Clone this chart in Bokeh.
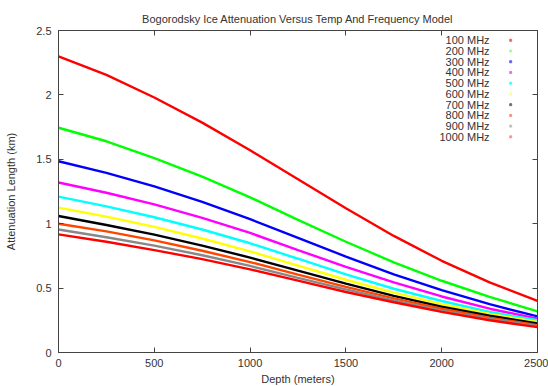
from bokeh.plotting import figure
from bokeh.models import Range1d, LinearAxis, FixedTicker, Label, Title
from bokeh.embed import file_html
from bokeh.resources import INLINE

# Depth samples (meters)
depth = [0, 250, 500, 750, 1000, 1250, 1500, 1750, 2000, 2250, 2500]

# Attenuation length (km) per frequency
att_100 = [2.30, 2.155, 1.98, 1.785, 1.57, 1.345, 1.12, 0.905, 0.712, 0.545, 0.40]
att_200 = [1.745, 1.64, 1.51, 1.365, 1.205, 1.03, 0.86, 0.70, 0.557, 0.432, 0.32]
att_300 = [1.485, 1.395, 1.29, 1.17, 1.035, 0.89, 0.745, 0.607, 0.485, 0.375, 0.28]
att_400 = [1.32, 1.24, 1.15, 1.045, 0.928, 0.795, 0.665, 0.545, 0.435, 0.34, 0.263]
att_500 = [1.21, 1.135, 1.05, 0.955, 0.848, 0.728, 0.607, 0.495, 0.40, 0.315, 0.25]
att_600 = [1.125, 1.055, 0.975, 0.885, 0.785, 0.675, 0.565, 0.465, 0.375, 0.30, 0.238]
att_700 = [1.06, 0.99, 0.915, 0.83, 0.737, 0.635, 0.535, 0.44, 0.355, 0.285, 0.225]
att_800 = [1.0, 0.94, 0.87, 0.79, 0.702, 0.605, 0.51, 0.42, 0.34, 0.27, 0.213]
att_900 = [0.955, 0.895, 0.83, 0.755, 0.672, 0.58, 0.49, 0.405, 0.325, 0.26, 0.205]
att_1000 = [0.917, 0.86, 0.795, 0.725, 0.645, 0.558, 0.47, 0.39, 0.315, 0.25, 0.197]

labels = ["100 MHz", "200 MHz", "300 MHz", "400 MHz", "500 MHz",
          "600 MHz", "700 MHz", "800 MHz", "900 MHz", "1000 MHz"]
series = [att_100, att_200, att_300, att_400, att_500,
          att_600, att_700, att_800, att_900, att_1000]
colors = ["#ff0000", "#00ff00", "#0000ff", "#ff00ff", "#00ffff",
          "#ffff00", "#000000", "#ff4500", "#888888", "#ff0000"]
key_colors = ["#ff6060", "#a0ffa0", "#6060ff", "#ff60ff", "#40ffff",
              "#ffff90", "#707070", "#ff9070", "#c0c0c0", "#ff9090"]

FONT = "Liberation Sans"
TXT = "#333333"
AXC = "#444444"

p = figure(frame_width=479, frame_height=322, output_backend="svg",
           toolbar_location=None,
           x_range=Range1d(0, 2500), y_range=Range1d(0, 2.5),
           min_border_left=58, min_border_right=11, min_border_top=30,
           min_border_bottom=34)
p.title = Title(text="Bogorodsky Ice Attenuation Versus Temp And Frequency Model",
                align="center", text_font=FONT, text_font_size="11px",
                text_font_style="normal", text_color=TXT, offset=0, standoff=12)

p.background_fill_color = "white"
p.border_fill_color = "white"
p.outline_line_color = AXC
p.outline_line_width = 1
p.grid.visible = False

for ys, c in zip(series, colors):
    p.line(depth, ys, line_color=c, line_width=2.4)

xt = FixedTicker(ticks=[0, 500, 1000, 1500, 2000, 2500])
yt = FixedTicker(ticks=[0, 0.5, 1, 1.5, 2, 2.5])

xax = p.xaxis[0]
yax = p.yaxis[0]
xax.ticker = xt
yax.ticker = yt
xax.axis_label = "Depth (meters)"
yax.axis_label = "Attenuation Length (km)"

for ax in [xax, yax]:
    ax.axis_line_color = AXC
    ax.major_tick_line_color = AXC
    ax.major_tick_in = 5
    ax.major_tick_out = 0
    ax.minor_tick_line_color = None
    ax.major_label_text_font = FONT
    ax.major_label_text_font_size = "11px"
    ax.major_label_text_color = TXT
    ax.axis_label_text_font = FONT
    ax.axis_label_text_font_size = "11px"
    ax.axis_label_text_font_style = "normal"
    ax.axis_label_text_color = TXT

xax.major_label_standoff = 6
xax.axis_label_standoff = 3
yax.major_label_standoff = 7
yax.axis_label_standoff = 16

# mirrored inward ticks on the top and right edges
for loc, tk in [("above", xt), ("right", yt)]:
    m = LinearAxis(ticker=tk)
    m.major_label_text_font_size = "0px"
    m.major_label_text_color = None
    m.major_label_standoff = 0
    m.axis_line_color = AXC
    m.major_tick_line_color = AXC
    m.major_tick_in = 5
    m.major_tick_out = 0
    m.minor_tick_line_color = None
    p.add_layout(m, loc)

# key in the upper right corner
for i, (lab, kc) in enumerate(zip(labels, key_colors)):
    yk = 2.424 - i * 0.0833
    p.add_layout(Label(x=2250, y=yk, text=lab, text_align="right",
                       text_baseline="middle", text_font=FONT,
                       text_font_size="11px", text_color=TXT))
    p.scatter([2360], [yk], size=2, color=kc, marker="square")

open("out.html", "w").write(file_html(p, INLINE))
